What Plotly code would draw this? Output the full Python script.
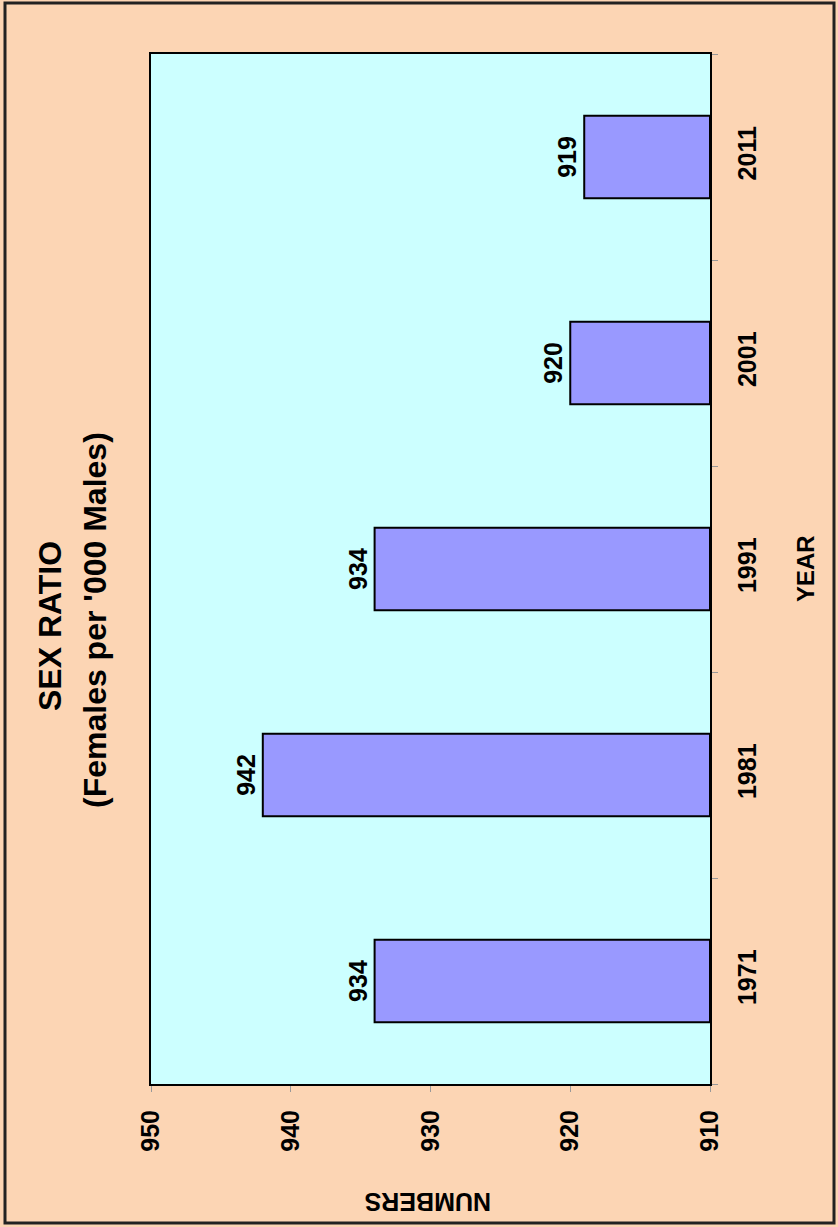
import plotly.graph_objects as go

years = ["1971", "1981", "1991", "2001", "2011"]
ratios = [934, 942, 934, 920, 919]
value_ticks = [910, 920, 930, 940, 950]
axis_min = 910

W, H = 838, 1227
L, R, T, B = 151, 710, 54, 1084
pw, ph = R - L, B - T

def px(x):
    return (x - L) / pw

def py(y):
    return (B - y) / ph

FONT = "Liberation Sans, Arial, sans-serif"

fig = go.Figure()
fig.add_trace(go.Bar(
    y=years, x=[v - axis_min for v in ratios], base=axis_min, orientation="h",
    marker=dict(color="#9999FF", line=dict(color="black", width=2)),
    text=[str(v) for v in ratios], textposition="outside", textangle=-90,
    textfont=dict(family=FONT, size=25, color="black", weight="bold"),
    cliponaxis=False, width=0.4, hoverinfo="skip",
))

fig.update_layout(
    width=W, height=H,
    margin=dict(l=L, r=W - R, t=T, b=H - B),
    paper_bgcolor="#FCD5B4", plot_bgcolor="#CCFFFF",
    showlegend=False,
    xaxis=dict(range=[950, 910], tickvals=value_ticks, ticktext=[str(v) for v in value_ticks],
               tickangle=-90, showgrid=False, zeroline=False,
               showline=True, mirror=True, linecolor="black", linewidth=2,
               ticks="outside", ticklen=6, tickcolor="#999999",
               ticklabelstandoff=8,
               tickfont=dict(family=FONT, size=25, color="black", weight="bold")),
    yaxis=dict(side="right", categoryorder="array", categoryarray=years,
               tickangle=-90, showgrid=False, zeroline=False,
               showline=True, mirror=True, linecolor="black", linewidth=2,
               ticks="outside", ticklen=6, tickcolor="#999999", tickson="boundaries",
               ticklabelstandoff=14,
               tickfont=dict(family=FONT, size=25, color="black", weight="bold")),
)

fig.add_shape(type="rect", xref="paper", yref="paper",
              x0=px(5), x1=px(834), y0=py(1223), y1=py(3),
              line=dict(color="#222222", width=3), fillcolor="rgba(0,0,0,0)", layer="below")

ann = [
    ("SEX RATIO", 50, 626, -90, 32),
    ("(Females per '000 Males)", 95, 620, -90, 32),
    ("YEAR", 805, 568, -90, 24),
    ("NUMBERS", 428, 1202, 180, 25),
]
for txt, x, y, ang, sz in ann:
    fig.add_annotation(text=txt, xref="paper", yref="paper", x=px(x), y=py(y),
                       xanchor="center", yanchor="middle", textangle=ang, showarrow=False,
                       font=dict(family=FONT, size=sz, color="black", weight="bold"))

fig.write_html("out.html", config={"displayModeBar": False},
               post_script="document.body.style.margin='0';document.body.style.overflow='hidden';")
